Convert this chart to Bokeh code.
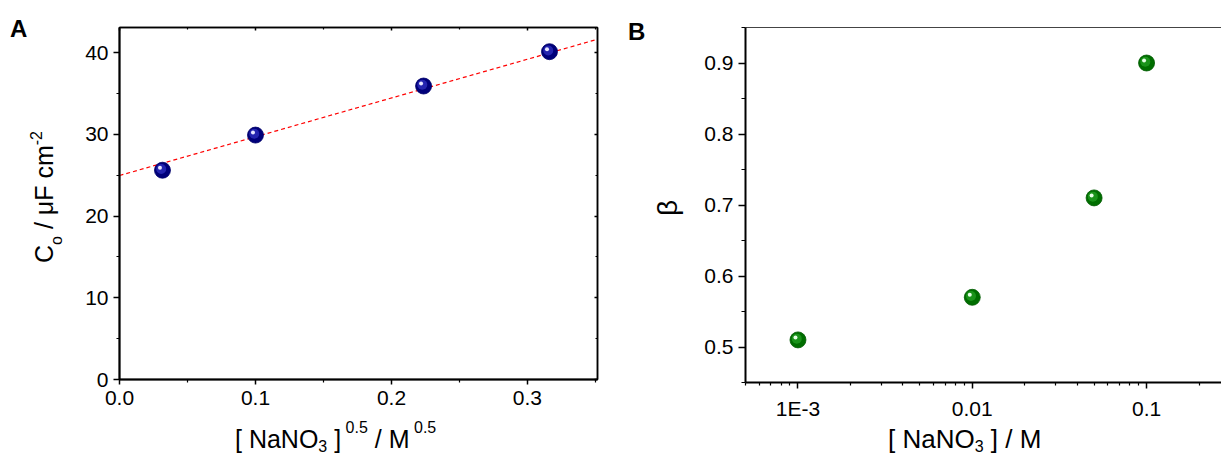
import numpy as np
from bokeh.plotting import figure
from bokeh.models import LinearAxis, FixedTicker, Range1d, Div
from bokeh.layouts import row, column
from bokeh.embed import file_html
from bokeh.resources import INLINE

# ---------------- data ----------------
# Panel A: C_o vs [NaNO3]^0.5
a_x = [0.0316, 0.1, 0.2236, 0.3162]
a_y = [25.6, 29.9, 35.9, 40.1]
a_fit_x = [0.0, 0.35]
a_fit_y = [24.95, 41.55]
a_xticks = [0.0, 0.1, 0.2, 0.3]
a_xtick_labels = ["0.0", "0.1", "0.2", "0.3"]
a_yticks = [0, 10, 20, 30, 40]
a_ytick_labels = ["0", "10", "20", "30", "40"]

# Panel B: beta vs [NaNO3]
b_x = [0.001, 0.01, 0.05, 0.1]
b_y = [0.51, 0.57, 0.71, 0.90]
b_xticks = [0.001, 0.01, 0.1]
b_xtick_labels = ["1E-3", "0.01", "0.1"]
b_yticks = [0.5, 0.6, 0.7, 0.8, 0.9]
b_ytick_labels = ["0.5", "0.6", "0.7", "0.8", "0.9"]

FONT = "Liberation Sans"
TICK_FS = "21px"
MAIN = 25
SCR = 16


def sub(t, shift=6):
    return (f'<span style="font-size:{SCR}px;position:relative;top:{shift}px;">{t}</span>')


def sup(t, shift=15):
    return (f'<span style="font-size:{SCR}px;position:relative;top:-{shift}px;">{t}</span>')


# axis titles (rich text)
a_xlabel = "[ NaNO" + sub("3", 4) + " ]" + sup(" 0.5") + " / M" + sup(" 0.5")
a_ylabel = "C" + sub("o", 9) + " / μF cm" + sup("-2", 11)
b_xlabel = "[ NaNO" + sub("3", 4) + " ] / M"
b_ylabel = "β"


def box(w, h, inner):
    return (f'<div style="position:relative;width:{w}px;height:{h}px;overflow:visible;'
            f'font-family:\'{FONT}\';color:black;">{inner}</div>')


def text_at(left, top, html, size, rotate=False, bold=False):
    rot = "transform-origin:0 0;transform:rotate(-90deg);" if rotate else ""
    weight = "bold" if bold else "normal"
    return (f'<div style="position:absolute;left:{left}px;top:{top}px;font-size:{size}px;'
            f'line-height:{size}px;white-space:pre;font-weight:{weight};{rot}">{html}</div>')


def style_axis(ax, ticks, minor, labels=None, tick_out=6, tick_in=0, mtick_out=3, mtick_in=0,
               line_w=2.0, standoff=5, line_color="black"):
    ax.ticker = FixedTicker(ticks=ticks, minor_ticks=minor)
    if labels is None:
        ax.major_label_overrides = {t: "" for t in ticks}
    else:
        ax.major_label_overrides = dict(zip(ticks, labels))
    ax.major_label_text_font = FONT
    ax.major_label_text_font_size = TICK_FS
    ax.major_label_text_color = "black"
    ax.major_label_standoff = standoff
    ax.axis_line_color = line_color
    ax.axis_line_width = line_w
    ax.major_tick_line_color = "black"
    ax.minor_tick_line_color = "black"
    ax.major_tick_line_width = 1.5
    ax.minor_tick_line_width = 1.2
    ax.major_tick_out = tick_out
    ax.major_tick_in = tick_in
    ax.minor_tick_out = mtick_out
    ax.minor_tick_in = mtick_in


H_FIG = 430
H_XT = 454 - H_FIG
W_YT = 70

# ---------------- Panel A ----------------
a_xr = Range1d(0, 0.3515)
a_yr = Range1d(0, 43.06)
FW_A, FH_A = 478, 352
pa = figure(frame_width=FW_A, frame_height=FH_A, x_range=a_xr, y_range=a_yr,
            output_backend="svg", toolbar_location=None,
            min_border_left=119 - W_YT, min_border_right=23, min_border_top=27,
            min_border_bottom=H_FIG - 27 - FH_A,
            background_fill_color="white", border_fill_color="white")
pa.grid.visible = False
pa.outline_line_color = "black"
pa.outline_line_width = 1.5

a_xminor = [0.05, 0.15, 0.25, 0.35]
a_yminor = [5, 15, 25, 35]
style_axis(pa.xaxis[0], a_xticks, a_xminor, a_xtick_labels, tick_out=5, mtick_out=3, standoff=6)
style_axis(pa.yaxis[0], a_yticks, a_yminor, a_ytick_labels, tick_out=6, mtick_out=3, standoff=5)
ax_top = LinearAxis()
style_axis(ax_top, a_xticks, a_xminor, None, tick_out=0, tick_in=3, mtick_out=0, mtick_in=2, line_w=1.5, standoff=0)
pa.add_layout(ax_top, "above")
ax_right = LinearAxis()
style_axis(ax_right, a_yticks, a_yminor, None, tick_out=0, tick_in=3, mtick_out=0, mtick_in=2, line_w=1.5, standoff=0)
pa.add_layout(ax_right, "right")

pa.line(a_fit_x, a_fit_y, line_color="#ff0000", line_width=1.2, line_dash="4 3")

dxa = 2.5 * (a_xr.end - a_xr.start) / FW_A
dya = 2.5 * (a_yr.end - a_yr.start) / FH_A
pa.scatter(a_x, a_y, size=16, fill_color="#00007a", line_color="#00006a", line_width=0.8)
pa.scatter([v - dxa * 0.5 for v in a_x], [v + dya * 0.5 for v in a_y], size=10,
           fill_color="#2a2ab8", line_color=None, fill_alpha=0.85)
pa.scatter([v - dxa for v in a_x], [v + dya for v in a_y], size=4,
           fill_color="#e6e6ff", line_color=None)

# ---------------- Panel B ----------------
b_xr = Range1d(5e-4, 0.2691)
b_yr = Range1d(0.45, 0.95)
FW_B, FH_B = 476, 355
pb = figure(frame_width=FW_B, frame_height=FH_B, x_range=b_xr, y_range=b_yr, x_axis_type="log",
            output_backend="svg", toolbar_location=None,
            min_border_left=125 - W_YT, min_border_right=0, min_border_top=27,
            min_border_bottom=H_FIG - 27 - FH_B,
            background_fill_color="white", border_fill_color="white")
pb.grid.visible = False
pb.outline_line_color = None

b_xminor = [k * 10.0 ** e for e in (-4, -3, -2, -1) for k in range(2, 10)]
b_xminor = [v for v in b_xminor if b_xr.start <= v <= b_xr.end and v not in b_xticks]
b_yminor = [0.45, 0.55, 0.65, 0.75, 0.85, 0.95]
style_axis(pb.xaxis[0], b_xticks, b_xminor, b_xtick_labels, tick_out=6, mtick_out=3, standoff=8)
style_axis(pb.yaxis[0], b_yticks, b_yminor, b_ytick_labels, tick_out=7, mtick_out=4, standoff=5)
bx_top = LinearAxis()
style_axis(bx_top, [], [], None, tick_out=0, tick_in=0, mtick_out=0, mtick_in=0, line_w=1.2,
           standoff=0, line_color="#444444")
pb.add_layout(bx_top, "above")

fxb = 10 ** (2.5 * (np.log10(b_xr.end) - np.log10(b_xr.start)) / FW_B)
dyb = 2.5 * (b_yr.end - b_yr.start) / FH_B
pb.scatter(b_x, b_y, size=16, fill_color="#006e00", line_color="#005a00", line_width=0.8)
pb.scatter([v / fxb ** 0.5 for v in b_x], [v + dyb * 0.5 for v in b_y], size=10,
           fill_color="#1f9a1f", line_color=None, fill_alpha=0.85)
pb.scatter([v / fxb for v in b_x], [v + dyb for v in b_y], size=4,
           fill_color="#e6ffe6", line_color=None)

# ---------------- titles (HTML text) ----------------
div_ay = Div(width=W_YT, height=H_FIG, margin=0,
             text=box(W_YT, H_FIG,
                      text_at(10, 17, "A", 24, bold=True) +
                      text_at(32, 263, a_ylabel, MAIN, rotate=True)))
div_by = Div(width=W_YT, height=H_FIG, margin=0,
             text=box(W_YT, H_FIG,
                      text_at(8, 20, "B", 24, bold=True) +
                      text_at(34, 216, b_ylabel, 28, rotate=True)))
W_A_TOT = W_YT + 119 - W_YT + FW_A + 23
W_B_TOT = 1221 - W_A_TOT
div_ax = Div(width=W_A_TOT, height=H_XT, margin=0,
             text=box(W_A_TOT, H_XT, text_at(235, -3, a_xlabel, MAIN)))
div_bx = Div(width=W_B_TOT, height=H_XT, margin=0,
             text=box(W_B_TOT, H_XT, text_at(888 - W_A_TOT, -4, b_xlabel, 26)))

layout = column(row(div_ay, pa, div_by, pb), row(div_ax, div_bx))
open("out.html", "w").write(file_html(layout, INLINE))
